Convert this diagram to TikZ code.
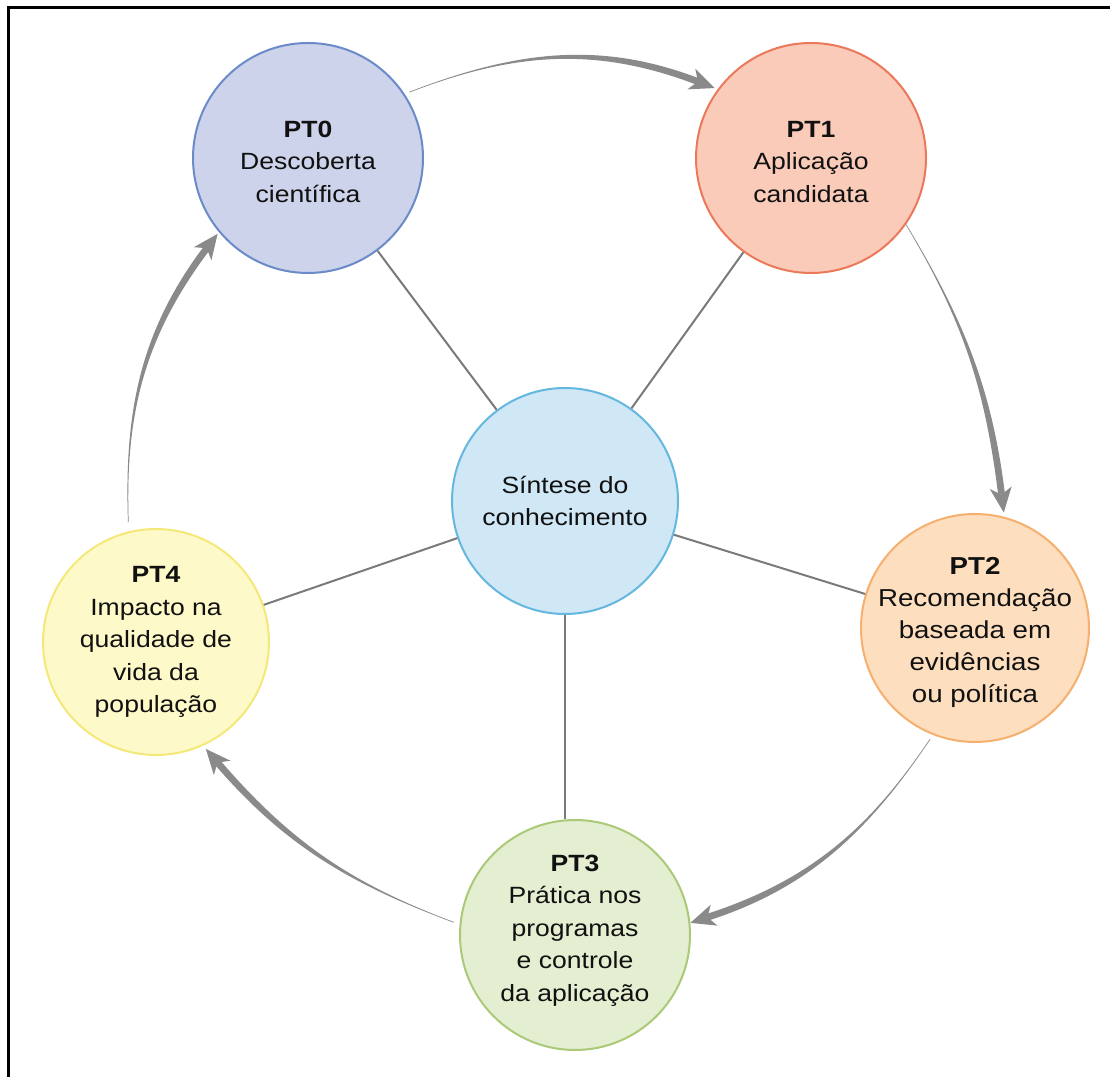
\documentclass[tikz,border=0pt]{standalone}
\usepackage{fontspec}
\setmainfont{Liberation Sans}[FakeStretch=1.13]
\usetikzlibrary{calc}
\definecolor{arrowgray}{HTML}{8A8A8A}
\definecolor{spokegray}{HTML}{7A7A7A}
\definecolor{textcol}{HTML}{111111}
\definecolor{fillA}{HTML}{CDD3EA}\definecolor{drawA}{HTML}{6A8AC8}
\definecolor{fillB}{HTML}{FACBB9}\definecolor{drawB}{HTML}{EC785A}
\definecolor{fillC}{HTML}{FDDEBE}\definecolor{drawC}{HTML}{F5AF6E}
\definecolor{fillD}{HTML}{E4EED0}\definecolor{drawD}{HTML}{AACA78}
\definecolor{fillE}{HTML}{FEF9C9}\definecolor{drawE}{HTML}{F3E878}
\definecolor{fillK}{HTML}{D0E7F6}\definecolor{drawK}{HTML}{64B7DE}
\tikzset{
  stage/.style={circle, line width=2pt, minimum size=#1, inner sep=-40pt,
    align=center, text=textcol, font=\fontsize{23.5}{32.5}\selectfont},
  spoke/.style={draw=spokegray, line width=2pt},
  flowbody/.style={fill=arrowgray}
}
% #1 from node, #2 start anchor angle, #3 start radius,
% #4 to node, #5 tip anchor angle, #6 tip radius, #7 out angle, #8 in angle
\newcommand\flowarrow[8]{%
  \coordinate (fa-s) at ($(#1.center)!#3pt!(#1.#2)$);
  \coordinate (fa-t) at ($(#4.center)!#6pt!(#4.#5)$);
  \coordinate (fa-b) at ($(fa-t)+(#8:18pt)$);
  \path let \p1=($(fa-b)-(fa-s)$), \n1={0.38*veclen(\x1,\y1)} in
    coordinate (fa-c1) at ($(fa-s)+(#7:\n1)$)
    coordinate (fa-c2) at ($(fa-b)+(#8:\n1)$);
  \fill[flowbody] ($(fa-s)+(#7+90:0.35pt)$)
     .. controls ($(fa-c1)+(#7+90:0.35pt)$) and ($(fa-c2)+(#8-90:3.4pt)$) .. ($(fa-b)+(#8-90:3.4pt)$)
     -- ($(fa-b)+(#8+90:3.4pt)$)
     .. controls ($(fa-c2)+(#8+90:3.4pt)$) and ($(fa-c1)+(#7-90:0.35pt)$) .. ($(fa-s)+(#7-90:0.35pt)$)
     -- cycle;
  \fill[flowbody] (fa-t) -- ($(fa-t)+(#8:25pt)+(#8+90:11pt)$) -- ($(fa-t)+(#8:18pt)$)
     -- ($(fa-t)+(#8:25pt)+(#8-90:11pt)$) -- cycle;
}
\begin{document}
\begin{tikzpicture}[x=1pt,y=1pt]
\useasboundingbox (0,0) rectangle (1110,1076);
\fill[white] (0,0) rectangle (1110,1076);
% frame
\draw[line width=3pt, black] (8.5,-5) -- (8.5,1068.5) -- (1115,1068.5);

% nodes
\node[stage=230pt, fill=fillA, draw=drawA, text height=89pt] (p0) at (308,918) {\textbf{PT0}\\Descoberta\\científica};
\node[stage=230pt, fill=fillB, draw=drawB, text height=89pt] (p1) at (811,918) {\textbf{PT1}\\Aplicação\\candidata};
\node[stage=228pt, fill=fillC, draw=drawC, text height=154pt, font=\fontsize{24.5}{32}\selectfont] (p2) at (975,448) {\textbf{PT2}\\Recomendação\\baseada em\\evidências\\ou política};
\node[stage=230pt, fill=fillD, draw=drawD, text depth=14pt] (p3) at (575,141) {\textbf{PT3}\\Prática nos\\programas\\e controle\\da aplicação};
\node[stage=226pt, fill=fillE, draw=drawE] (p4) at (156,434) {\textbf{PT4}\\Impacto na\\qualidade de\\vida da\\população};
\node[stage=226pt, fill=fillK, draw=drawK] (c) at (565,575) {Síntese do\\conhecimento};

% spokes
\draw[spoke] (c) -- (p0);
\draw[spoke] (c) -- (p1);
\draw[spoke] (c) -- (p2);
\draw[spoke] (c.south) -- (c.south |- p3.north);
\draw[spoke] (c) -- (p4);

% cycle arrows
\flowarrow{p0}{33}{121}{p1}{144}{119}{21}{159}
\flowarrow{p1}{-35.5}{116}{p2}{76.4}{119}{-59}{97}
\flowarrow{p2}{248.5}{120}{p3}{6.6}{116}{236}{18}
\flowarrow{p3}{174.4}{122}{p4}{-65.6}{118}{159.5}{310.7}
\flowarrow{p4}{103}{123}{p0}{220.2}{118}{92}{233}
\end{tikzpicture}
\end{document}
